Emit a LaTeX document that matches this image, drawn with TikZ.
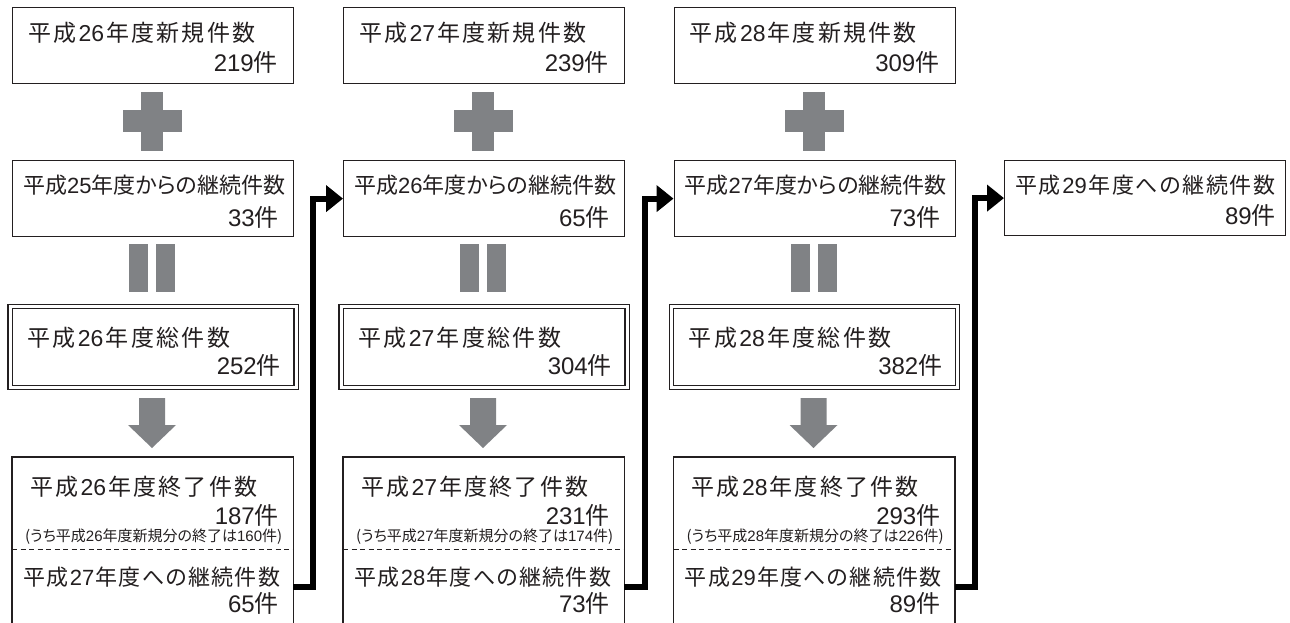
\documentclass[tikz,border=0pt]{standalone}
\usepackage{fontspec}
\setmainfont{Noto Sans CJK JP}
\newfontfamily\jpp[RawFeature=+palt]{Noto Sans CJK JP}
\newfontfamily\dg{Liberation Sans}
\usetikzlibrary{arrows.meta}
\definecolor{shp}{HTML}{808285}
\definecolor{ink}{HTML}{231F20}
\def\sprd#1{\sprdA#1\sprdEnd}
\def\sprdA#1#2\sprdEnd{{#1}\if\relax\detokenize{#2}\relax\else\hfil\sprdA#2\sprdEnd\fi}
\newcommand\fitline[2]{\makebox[#1][s]{\sprd{#2}}}
\tikzset{
  boxn/.style={draw=ink, line width=1.2pt, minimum width=281pt, minimum height=76pt, inner sep=0pt, anchor=north west},
  dbox/.style={draw=ink, line width=1.2pt, double=white, double distance=3pt, minimum width=286pt, minimum height=81pt, inner sep=0pt, anchor=north west},
  ebox/.style={minimum width=281pt, minimum height=166pt, inner sep=0pt, anchor=north west},
  ttl/.style={anchor=west, inner sep=0pt, text=ink, font=\fontsize{23pt}{27pt}\selectfont},
  sub/.style={anchor=west, inner sep=0pt, text=ink, font=\jpp\fontsize{22pt}{26pt}\selectfont},
  num/.style={anchor=east, inner sep=0pt, text=ink, font=\fontsize{24pt}{28pt}\selectfont},
  note/.style={anchor=west, inner sep=0pt, text=ink, font=\jpp\fontsize{15pt}{17pt}\selectfont},
  conn/.style={draw=black, line width=6pt, line join=miter, -{Triangle[length=17pt,width=26pt]}},
  sym/.style={fill=shp}
}
% #1 idx, #2 dx, #3 year, #4 new, #5 carry-in, #6 total, #7 ended, #8 ended-new, #9 carry-out
\newcommand\yearcol[9]{%
  \pgfmathtruncatemacro\yprev{#3-1}%
  \pgfmathtruncatemacro\ynext{#3+1}%
  \node[boxn] (n#1) at (12+#2,7) {};
  \node[ttl] (n#1a) at (28+#2,33) {\fitline{227pt}{平成{\dg #3}年度新規件数}};
  \node[num] (n#1b) at (278+#2,62) {{\dg #4}件};
  \fill[sym] (141+#2,92) rectangle (163+#2,151);
  \fill[sym] (123+#2,110) rectangle (182+#2,132);
  \node[boxn] (c#1) at (12+#2,160) {};
  \node[sub] (c#1a) at (23+#2,185) {\fitline{257pt}{平成{\dg\yprev}年度からの継続件数}};
  \node[num] (c#1b) at (279+#2,217) {{\dg #5}件};
  \fill[sym] (129+#2,244) rectangle (148+#2,292);
  \fill[sym] (156+#2,244) rectangle (175+#2,292);
  \node[dbox] (s#1) at (9.5+#2,306) {};
  \node[ttl] (s#1a) at (27+#2,338) {\fitline{203pt}{平成{\dg #3}年度総件数}};
  \node[num] (s#1b) at (281+#2,365) {{\dg #6}件};
  \fill[sym] (139+#2,398) -- (165+#2,398) -- (165+#2,425) -- (176+#2,425) -- (152+#2,448) -- (128+#2,425) -- (139+#2,425) -- cycle;
  \node[ebox] (e#1) at (12+#2,457) {};
  \draw[ink, line width=1.2pt] (e#1.south west) -- (e#1.north west) -- (e#1.north east) -- (e#1.south east);
  \node[ttl] (e#1a) at (30+#2,487) {\fitline{227pt}{平成{\dg #3}年度終了件数}};
  \node[num] (e#1b) at (279+#2,515) {{\dg #7}件};
  \node[note] (e#1c) at (25+#2,537) {\fitline{255pt}{(うち平成{\dg #3}年度新規分の終了は{\dg #8}件)}};
  \draw[ink, line width=1pt, dash pattern=on 5pt off 3.5pt] (12+#2,549) -- (293+#2,549);
  \node[sub] (e#1d) at (23+#2,577) {\fitline{257pt}{平成{\dg\ynext}年度への継続件数}};
  \node[num] (e#1e) at (279+#2,603) {{\dg #9}件};
}
\begin{document}
\begin{tikzpicture}[x=1pt,y=-1pt]
\useasboundingbox (0,0) rectangle (1290,623);
\fill[white] (0,0) rectangle (1290,623);
\yearcol{1}{0}{26}{219}{33}{252}{187}{160}{65}
\yearcol{2}{331}{27}{239}{65}{304}{231}{174}{73}
\yearcol{3}{661.5}{28}{309}{73}{382}{293}{226}{89}
\node[boxn, minimum height=75pt] (c4) at (1004,160) {};
\node[sub] (c4a) at (1015,185) {\fitline{260pt}{平成{\dg 29}年度への継続件数}};
\node[num] (c4b) at (1276,215) {{\dg 89}件};
\coordinate (k1) at (313,587);
\coordinate (k2) at (645,587);
\coordinate (k3) at (975,587);
\draw[conn] (k1 -| e1.east) -- (k1) |- (c2.west);
\draw[conn] (k2 -| e2.east) -- (k2) |- (c3.west);
\draw[conn] (k3 -| e3.east) -- (k3) |- (c4.west);
\end{tikzpicture}
\end{document}
